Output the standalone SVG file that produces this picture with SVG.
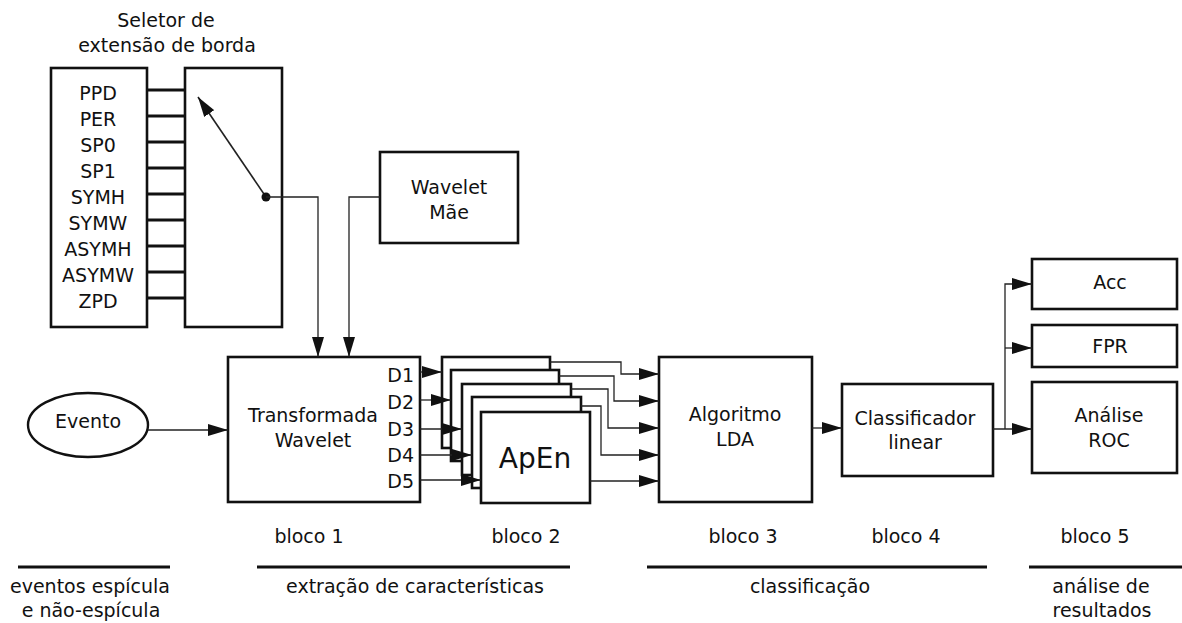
<svg xmlns="http://www.w3.org/2000/svg" width="1182" height="623" viewBox="0 0 1182 623">
<style>
text{font-family:"DejaVu Sans","Liberation Sans",sans-serif;font-size:19px;fill:#111}
.m{text-anchor:middle}
.e{text-anchor:end}
.box{fill:#fff;stroke:#111;stroke-width:2.6}
.stub{stroke:#111;stroke-width:3}
.c{fill:none;stroke:#222;stroke-width:1.3}
.rule{stroke:#111;stroke-width:3}
</style>
<defs>
<marker id="a" markerUnits="userSpaceOnUse" markerWidth="20" markerHeight="12" refX="20" refY="6" orient="auto">
<path d="M0,0 L20,6 L0,12 z" fill="#111"/>
</marker>
</defs>
<g id="selector">
<text class="m" x="166" y="27">Seletor de</text>
<text class="m" x="167" y="52">extensão de borda</text>
<rect class="box" x="51" y="68" width="96" height="259"/>
<rect class="box" x="185" y="68" width="97" height="259"/>
<g class="stub">
<line x1="147" y1="90" x2="185" y2="90"/>
<line x1="147" y1="116" x2="185" y2="116"/>
<line x1="147" y1="142" x2="185" y2="142"/>
<line x1="147" y1="168" x2="185" y2="168"/>
<line x1="147" y1="194" x2="185" y2="194"/>
<line x1="147" y1="220" x2="185" y2="220"/>
<line x1="147" y1="246" x2="185" y2="246"/>
<line x1="147" y1="272" x2="185" y2="272"/>
<line x1="147" y1="298" x2="185" y2="298"/>
</g>
<text class="m" x="98" y="100">PPD</text>
<text class="m" x="98" y="126">PER</text>
<text class="m" x="98" y="152">SP0</text>
<text class="m" x="98" y="178">SP1</text>
<text class="m" x="98" y="204">SYMH</text>
<text class="m" x="98" y="230">SYMW</text>
<text class="m" x="98" y="256">ASYMH</text>
<text class="m" x="98" y="282">ASYMW</text>
<text class="m" x="98" y="308">ZPD</text>
<line class="c" x1="266" y1="197" x2="198" y2="97" style="stroke-width:1.6" marker-end="url(#a)"/>
<circle cx="266" cy="197" r="4.5" fill="#111"/>
</g>
<g id="wavelet-mae">
<rect class="box" x="380" y="152" width="138" height="91"/>
<text class="m" x="449" y="194">Wavelet</text>
<text class="m" x="449" y="219">Mãe</text>
</g>
<g id="evento">
<ellipse cx="88" cy="425" rx="60" ry="32" fill="#fff" stroke="#111" stroke-width="2.4"/>
<text class="m" x="88" y="428">Evento</text>
</g>
<g id="transformada">
<rect class="box" x="228" y="357" width="192" height="145"/>
<text class="m" x="313" y="422">Transformada</text>
<text class="m" x="313" y="447">Wavelet</text>
<text class="e" x="414" y="382">D1</text>
<text class="e" x="414" y="409">D2</text>
<text class="e" x="414" y="436">D3</text>
<text class="e" x="414" y="462">D4</text>
<text class="e" x="414" y="488">D5</text>
</g>
<g id="apen">
<rect class="box" x="442" y="357" width="108" height="91"/>
<rect class="box" x="451" y="370" width="108" height="91"/>
<rect class="box" x="462" y="384" width="109" height="91"/>
<rect class="box" x="472" y="397" width="109" height="91"/>
<rect class="box" x="481" y="412" width="109" height="91"/>
<text class="m" x="535" y="468" style="font-size:28px">ApEn</text>
</g>
<g id="lda">
<rect class="box" x="659" y="357" width="153" height="145"/>
<text class="m" x="735" y="421">Algoritmo</text>
<text class="m" x="735" y="446">LDA</text>
</g>
<g id="classificador">
<rect class="box" x="842" y="384" width="151" height="92"/>
<text class="m" x="915" y="425">Classificador</text>
<text class="m" x="915" y="449">linear</text>
</g>
<g id="acc">
<rect class="box" x="1032" y="259" width="145" height="50"/>
<text class="m" x="1110" y="289">Acc</text>
</g>
<g id="fpr">
<rect class="box" x="1032" y="325" width="145" height="42"/>
<text class="m" x="1110" y="353">FPR</text>
</g>
<g id="roc">
<rect class="box" x="1032" y="382" width="145" height="91"/>
<text class="m" x="1109" y="422">Análise</text>
<text class="m" x="1109" y="447">ROC</text>
</g>
<g id="connectors">
<path class="c" d="M266,197 H318 V357" marker-end="url(#a)"/>
<path class="c" d="M380,197 H349 V357" marker-end="url(#a)"/>
<path class="c" d="M148,430 H228" marker-end="url(#a)"/>
<path class="c" d="M420,372 H442" marker-end="url(#a)"/>
<path class="c" d="M420,400 H451" marker-end="url(#a)"/>
<path class="c" d="M420,429 H462" marker-end="url(#a)"/>
<path class="c" d="M420,455 H472" marker-end="url(#a)"/>
<path class="c" d="M420,480 H481" marker-end="url(#a)"/>
<path class="c" d="M550,362 H621 V374 H659" marker-end="url(#a)"/>
<path class="c" d="M559,376 H614 V401 H659" marker-end="url(#a)"/>
<path class="c" d="M571,389 H608 V428 H659" marker-end="url(#a)"/>
<path class="c" d="M581,406 H601 V455 H659" marker-end="url(#a)"/>
<path class="c" d="M590,481 H659" marker-end="url(#a)"/>
<path class="c" d="M812,428 H842" marker-end="url(#a)"/>
<path class="c" d="M993,429 H1032" marker-end="url(#a)"/>
<path class="c" d="M1005,429 V284 H1032" marker-end="url(#a)"/>
<path class="c" d="M1005,348 H1032" marker-end="url(#a)"/>
</g>
<g id="labels">
<text class="m" x="309" y="543">bloco 1</text>
<text class="m" x="526" y="543">bloco 2</text>
<text class="m" x="743" y="543">bloco 3</text>
<text class="m" x="906" y="543">bloco 4</text>
<text class="m" x="1095" y="543">bloco 5</text>
<line class="rule" x1="18" y1="567" x2="170" y2="567"/>
<line class="rule" x1="257" y1="567" x2="570" y2="567"/>
<line class="rule" x1="647" y1="567" x2="987" y2="567"/>
<line class="rule" x1="1029" y1="567" x2="1182" y2="567"/>
<text class="m" x="90" y="593">eventos espícula</text>
<text class="m" x="91" y="617">e não-espícula</text>
<text class="m" x="415" y="593">extração de características</text>
<text class="m" x="810" y="593">classificação</text>
<text class="m" x="1101" y="593">análise de</text>
<text class="m" x="1102" y="617">resultados</text>
</g>
</svg>
